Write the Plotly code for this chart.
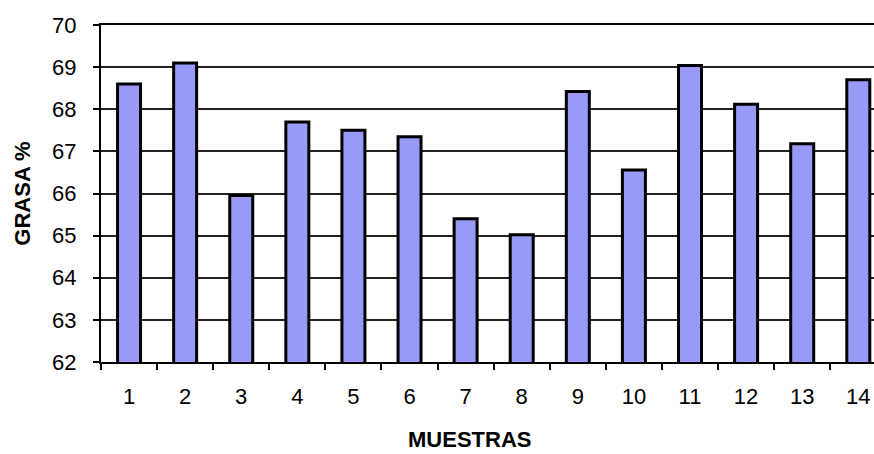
import plotly.graph_objects as go

# Fat content per sample
muestras = ["1", "2", "3", "4", "5", "6", "7", "8", "9", "10", "11", "12", "13", "14"]
grasa = [68.6, 69.1, 65.95, 67.7, 67.5, 67.35, 65.4, 65.02, 68.42, 66.56, 69.04, 68.12, 67.18, 68.7]
y_ticks = [62, 63, 64, 65, 66, 67, 68, 69, 70]

FONT = "Liberation Sans, Arial, sans-serif"

fig = go.Figure(
    go.Bar(
        x=muestras,
        y=grasa,
        base=0,
        marker=dict(color="#9999F8", line=dict(color="#000000", width=3)),
    )
)

fig.update_layout(
    width=874,
    height=454,
    margin=dict(l=101, r=0, t=25, b=92),
    paper_bgcolor="white",
    plot_bgcolor="white",
    bargap=0.59,
    showlegend=False,
    font=dict(family=FONT, size=22, color="#000000"),
    annotations=[
        dict(
            text="<b>MUESTRAS</b>",
            xref="paper", yref="paper",
            x=0.477, y=-0.231,
            xanchor="center", yanchor="middle",
            showarrow=False,
            font=dict(family=FONT, size=22, color="#000000"),
        ),
        dict(
            text="<b>GRASA %</b>",
            xref="paper", yref="paper",
            x=-0.102, y=0.5,
            xanchor="center", yanchor="middle",
            textangle=-90,
            showarrow=False,
            font=dict(family=FONT, size=22, color="#000000"),
        ),
    ],
)

fig.update_xaxes(
    type="category",
    range=[-0.5, 13.28],
    showgrid=False,
    showline=True,
    linecolor="#000000",
    linewidth=2,
    mirror=True,
    ticks="outside",
    tickson="boundaries",
    ticklen=6,
    tickwidth=1.5,
    tickcolor="#000000",
    ticklabelstandoff=14,
    tickfont=dict(family=FONT, size=22, color="#000000"),
)

fig.update_yaxes(
    range=[62, 70],
    tickvals=y_ticks,
    showgrid=True,
    gridcolor="#222222",
    gridwidth=1.5,
    showline=True,
    linecolor="#000000",
    linewidth=2,
    ticks="outside",
    ticklen=6,
    tickwidth=1.5,
    tickcolor="#000000",
    ticklabelstandoff=12,
    zeroline=False,
    tickfont=dict(family=FONT, size=22, color="#000000"),
)

fig.write_html("out.html")
